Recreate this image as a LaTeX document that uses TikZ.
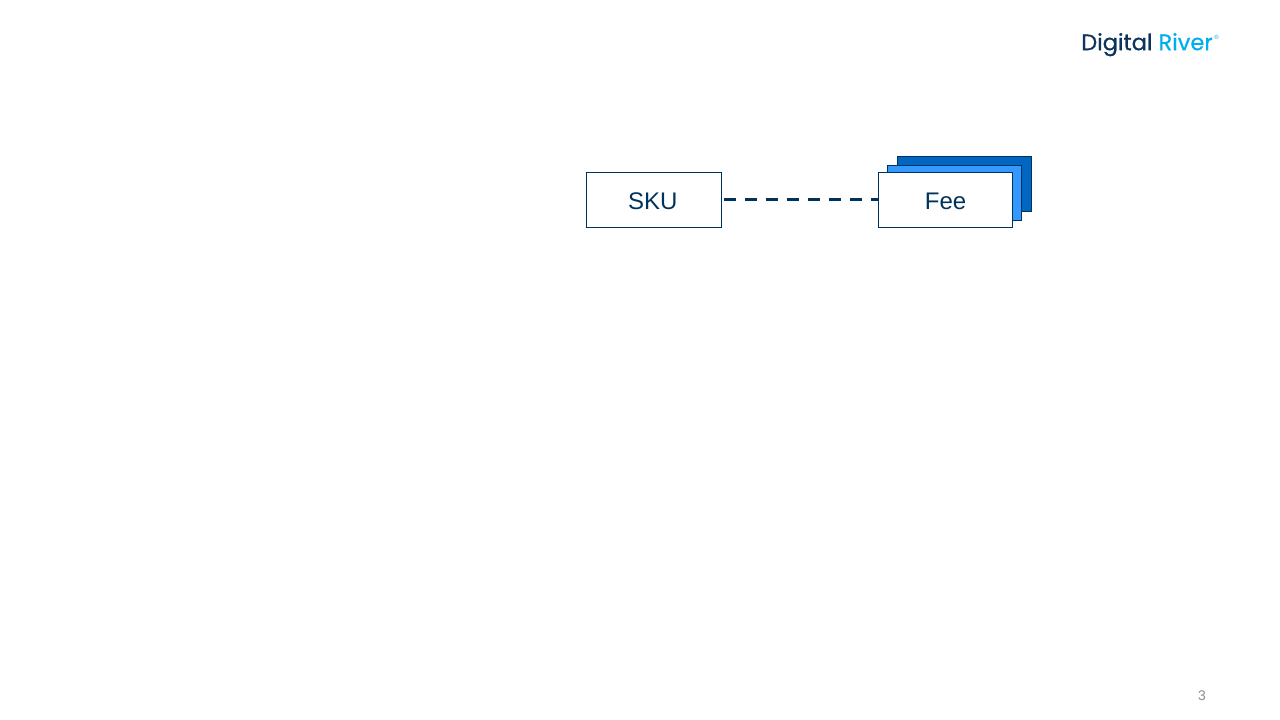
\documentclass[tikz,border=0pt]{standalone}
\usepackage{fontspec}
\setmainfont{Liberation Sans}
\newfontfamily\logofont[FakeBold=0.5]{Poppins}
\definecolor{navy}{RGB}{0,51,92}
\definecolor{backblue}{RGB}{0,102,194}
\definecolor{midblue}{RGB}{51,153,255}
\definecolor{logonavy}{RGB}{13,52,92}
\definecolor{logocyan}{RGB}{0,174,239}
\tikzset{
  card/.style={draw=navy,line width=0.75pt,minimum width=100.5pt,minimum height=41.25pt,inner sep=0pt,anchor=north west,text=navy,font=\fontsize{18}{21}\selectfont},
  link/.style={draw=navy,line width=2.25pt,dash pattern=on 9.4pt off 6.35pt}
}
\begin{document}
\begin{tikzpicture}[x=0.75pt,y=-0.75pt]
\useasboundingbox[fill=white] (0,0) rectangle (1280,720);
\node[card,fill=backblue] (back) at (896.5,156.5) {};
\node[card,fill=midblue] (mid) at (886.5,165.5) {};
\node[card,fill=white,minimum width=100.5pt] (fee) at (877.5,172.5) {\raisebox{-6.7pt}[0pt][0pt]{\kern0.8pt Fee}};
\node[card,fill=white,minimum width=101.25pt] (sku) at (585.5,172.5) {\raisebox{-6.7pt}[0pt][0pt]{SKU\kern1pt}};
\draw[link,shorten <=1.75pt] ([yshift=0.75pt]sku.east) -- ([yshift=0.75pt]fee.west);
\node[inner sep=0pt,anchor=base west,font=\logofont\fontsize{16.9}{20}\selectfont] (logo) at (1081,50.2) {\textcolor{logonavy}{Digital} \textcolor{logocyan}{River}};
\node[inner sep=0pt,anchor=center,text=logocyan,font=\fontsize{4.5}{5}\selectfont] (reg) at (1216.5,37) {®};
\node[inner sep=0pt,text=black!45,font=\fontsize{10.5}{12}\selectfont] (page) at (1202,695.5) {3};
\end{tikzpicture}
\end{document}
